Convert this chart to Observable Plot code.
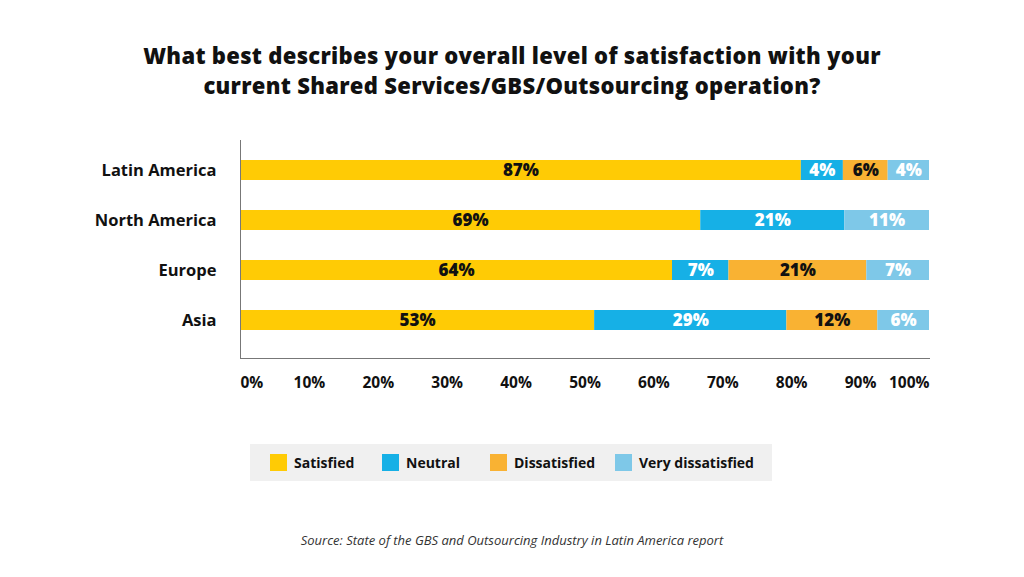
<!DOCTYPE html>
<html>
<head>
<meta charset="utf-8">
<script src="https://cdn.jsdelivr.net/npm/d3@7"></script>
<script src="https://cdn.jsdelivr.net/npm/@observablehq/plot@0.6"></script>
<style>
  html, body { margin: 0; padding: 0; background: #fff; }
  body { width: 1024px; height: 577px; position: relative; overflow: hidden; font-family: "Open Sans", sans-serif; color: #111; }
  #title { position: absolute; top: 40px; left: 0; width: 1024px; text-align: center; font-weight: 800; font-size: 22px; line-height: 30px; letter-spacing: 0.3px; color: #111; }
  #title div { height: 30px; }
  #chart { position: absolute; top: 130px; left: 0; }
  #legend { position: absolute; top: 444px; left: 250px; width: 522px; height: 37px; background: #f0f0f0; font-weight: 700; font-size: 14px; color: #111; }
  #legend .item { position: absolute; top: 0; height: 37px; display: flex; align-items: center; }
  #legend .sw { width: 17px; height: 17px; margin-right: 7px; }
  #source { position: absolute; top: 531px; left: 0; width: 1024px; text-align: center; font-style: italic; font-size: 13px; color: #333; }
</style>
</head>
<body>
<div id="title"><div>What best describes your overall level of satisfaction with your</div><div>current Shared Services/GBS/Outsourcing operation?</div></div>
<div id="chart"></div>
<div id="legend"></div>
<div id="source">Source: State of the GBS and Outsourcing Industry in Latin America report</div>
<script>
// Regions (top to bottom) and response categories (left to right)
const regions = ["Latin America", "North America", "Europe", "Asia"];
const categories = ["Satisfied", "Neutral", "Dissatisfied", "Very dissatisfied"];
const colors = ["#FFCB05", "#16B0E6", "#F9B233", "#7EC8E8"];
const labelColors = ["#111", "#fff", "#111", "#fff"];

// Printed percentages (per region, in region order); null = not shown
const satisfied = [87, 69, 64, 53];
const neutral = [4, 21, 7, 29];
const dissatisfied = [6, null, 21, 12];
const veryDissatisfied = [4, 11, 7, 6];

// Bar lengths as drawn in the reference (percent of the axis)
const satisfiedLen = [81.4, 66.8, 62.7, 51.4];
const neutralLen = [6.1, 20.9, 8.2, 27.9];
const dissatisfiedLen = [6.5, null, 20.0, 13.2];
const veryDissatisfiedLen = [6.0, 12.3, 9.1, 7.5];

const xTicks = [0, 10, 20, 30, 40, 50, 60, 70, 80, 90, 100];

const series = [
  [satisfied, satisfiedLen],
  [neutral, neutralLen],
  [dissatisfied, dissatisfiedLen],
  [veryDissatisfied, veryDissatisfiedLen]
];
const data = [];
regions.forEach((r, i) => {
  series.forEach(([vals, lens], j) => {
    if (vals[i] != null) data.push({region: r, cat: categories[j], value: vals[i], len: lens[i]});
  });
});

const stackOpts = {x: "len", y: "region", z: "cat", order: categories};
const axisFont = {fontSize: 15.5, fontWeight: 700};

const chart = Plot.plot({
  width: 1024,
  height: 273,
  marginTop: 10,
  marginBottom: 45,
  marginLeft: 240,
  marginRight: 95,
  style: {fontFamily: "Open Sans, sans-serif", color: "#111", background: "transparent"},
  x: {domain: [0, 100]},
  y: {domain: regions, paddingInner: 0.6, paddingOuter: 0.3, insetTop: 5, insetBottom: 13},
  color: {domain: categories, range: colors},
  marks: [
    Plot.barX(data, Plot.stackX({...stackOpts, fill: "cat"})),
    Plot.text(data, Plot.stackX({
      ...stackOpts,
      text: d => d.value + "%",
      fill: d => labelColors[categories.indexOf(d.cat)],
      fontSize: 17, fontWeight: 800
    })),
    Plot.axisY({tickSize: 0, tickPadding: 24, fontSize: 16.5, fontWeight: 700, label: null}),
    Plot.axisX([0], {tickSize: 0, tickPadding: 18, textAnchor: "start", tickFormat: d => d + "%", ...axisFont, label: null}),
    Plot.axisX(xTicks.slice(1, -1), {tickSize: 0, tickPadding: 18, tickFormat: d => d + "%", ...axisFont, label: null}),
    Plot.axisX([100], {tickSize: 0, tickPadding: 18, textAnchor: "end", tickFormat: d => d + "%", ...axisFont, label: null}),
    Plot.frame({anchor: "left", stroke: "#777"}),
    Plot.frame({anchor: "bottom", stroke: "#777"})
  ]
});
document.getElementById("chart").appendChild(chart);

// Legend
const legend = document.getElementById("legend");
const legendX = [20, 132, 240, 365];
categories.forEach((c, i) => {
  const item = document.createElement("div");
  item.className = "item";
  item.style.left = legendX[i] + "px";
  const sw = document.createElement("div");
  sw.className = "sw";
  sw.style.background = colors[i];
  const t = document.createElement("span");
  t.textContent = c;
  item.appendChild(sw);
  item.appendChild(t);
  legend.appendChild(item);
});
</script>
</body>
</html>
